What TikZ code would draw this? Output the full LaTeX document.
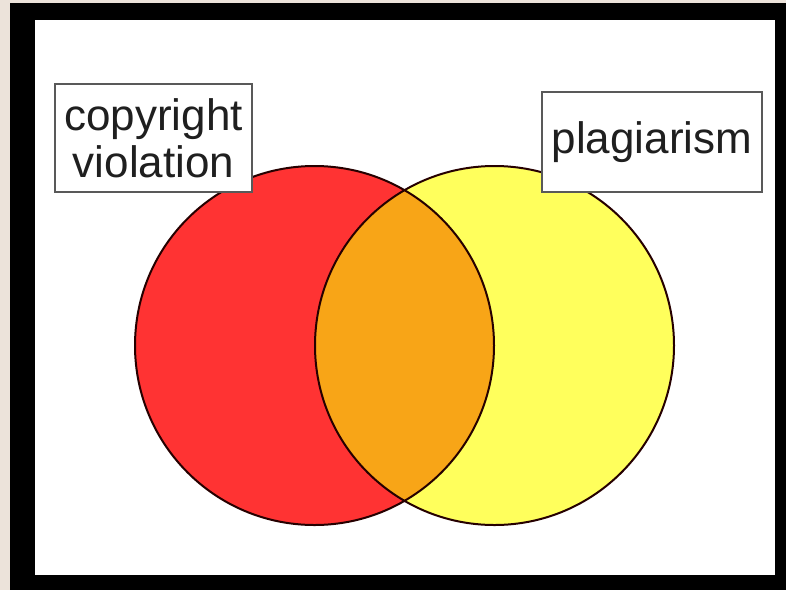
\documentclass[tikz,border=0pt]{standalone}
\usepackage{fontspec}
\setmainfont{Liberation Sans}
\definecolor{frame}{HTML}{ECE3DA}
\definecolor{vred}{HTML}{FF3333}
\definecolor{vyellow}{HTML}{FFFF5C}
\definecolor{vorange}{HTML}{F8A517}
\tikzset{
  tag/.style={draw=black!65,line width=1.3pt,fill=white,inner sep=0pt,
    align=center,text=black!88,font=\fontsize{44}{47}\selectfont},
  rim/.style={draw=black!85!red,line width=2pt}
}
\begin{document}
\begin{tikzpicture}[x=1pt,y=-1pt]
\useasboundingbox (0,0) rectangle (786,590);
\fill[frame] (0,0) rectangle (786,590);
\fill[black] (10,3) rectangle (786,590);
\fill[white] (35,20) rectangle (775,575);

% the two sets
\fill[vred] (314.5,345.5) circle (179.5);
\fill[vyellow] (494.5,345.5) circle (179.5);
\begin{scope}
  \clip (314.5,345.5) circle (179.5);
  \fill[vorange] (494.5,345.5) circle (179.5);
\end{scope}
\draw[rim] (314.5,345.5) circle (179.5);
\draw[rim] (494.5,345.5) circle (179.5);

\node[tag,minimum width=197,minimum height=108] (copy) at (153.5,138) {copyright\\violation};
\node[tag,minimum width=220,minimum height=100] (plag) at (652,142) {plagiarism};
\end{tikzpicture}
\end{document}
